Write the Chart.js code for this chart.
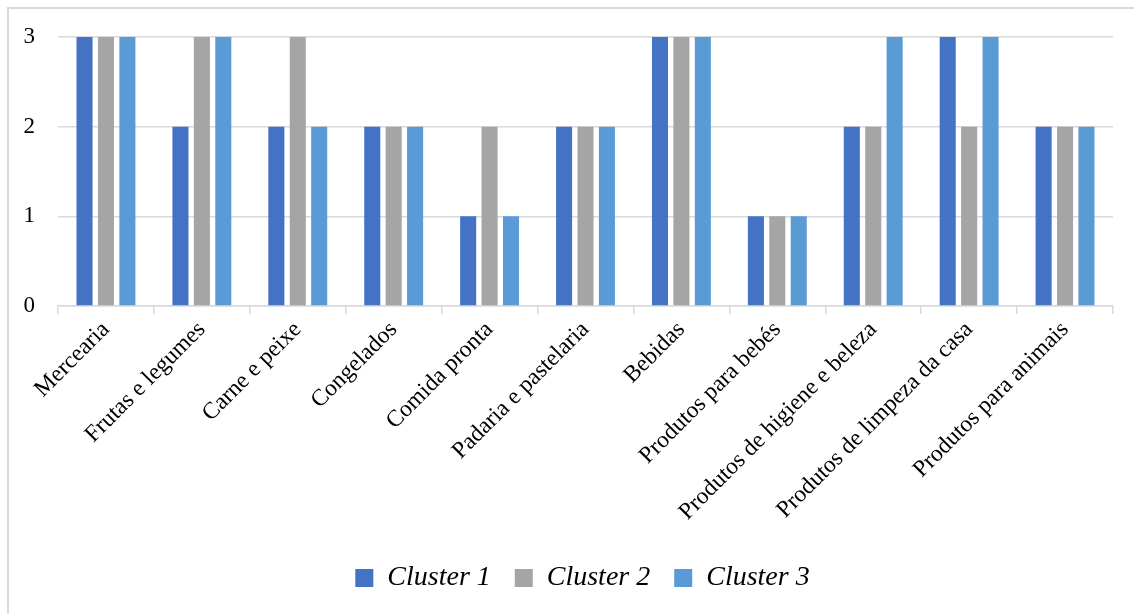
<!DOCTYPE html>
<html>
<head>
<meta charset="utf-8">
<script src="https://cdn.jsdelivr.net/npm/chart.js@4/dist/chart.umd.min.js"></script>
<style>
  html, body { margin: 0; padding: 0; background: #fff; }
  body { width: 1134px; height: 614px; overflow: hidden; position: relative; }
  #frame { position: absolute; left: 7px; top: 7px; width: 1140px; height: 620px;
           border-left: 2px solid #D9D9D9; border-top: 2px solid #D9D9D9; box-sizing: border-box; }
  #wrap { position: absolute; left: 0; top: 0; width: 1134px; height: 614px; }
</style>
</head>
<body>
<div id="frame"></div>
<div id="wrap"><canvas id="c" width="1134" height="614"></canvas></div>
<script>
const categories = [
  "Mercearia", "Frutas e legumes", "Carne e peixe", "Congelados", "Comida pronta",
  "Padaria e pastelaria", "Bebidas", "Produtos para bebés", "Produtos de higiene e beleza",
  "Produtos de limpeza da casa", "Produtos para animais"
];
const cluster1 = [3, 2, 2, 2, 1, 2, 3, 1, 2, 3, 2];
const cluster2 = [3, 3, 3, 2, 2, 2, 3, 1, 2, 2, 2];
const cluster3 = [3, 3, 2, 2, 1, 2, 3, 1, 3, 3, 2];
const seriesNames = ["Cluster 1", "Cluster 2", "Cluster 3"];
const yTicks = [0, 1, 2, 3];

const colors = ["#4472C4", "#A5A5A5", "#5B9BD5"];
const serif = "'Liberation Serif', 'DejaVu Serif', serif";

// the legend sits a little right of the canvas centre
const legendShift = {
  id: "legendShift",
  afterLayout(chart) {
    const lg = chart.legend;
    if (lg) { lg.left += 26; lg.right += 26; lg.top -= 2; lg.bottom -= 2; }
  }
};

new Chart(document.getElementById("c"), {
  type: "bar",
  data: {
    labels: categories,
    datasets: [cluster1, cluster2, cluster3].map((d, i) => ({
      label: seriesNames[i],
      data: d,
      backgroundColor: colors[i],
      borderWidth: 0,
      categoryPercentage: 0.67,
      barPercentage: 0.75
    }))
  },
  plugins: [legendShift],
  options: {
    responsive: false,
    animation: false,
    layout: { padding: { left: 0, right: 21, top: 37, bottom: 10 } },
    plugins: {
      tooltip: { enabled: false },
      legend: {
        position: "bottom",
        labels: {
          color: "#000",
          font: { family: serif, size: 28, style: "italic" },
          boxWidth: 18,
          boxHeight: 18,
          padding: 24
        }
      }
    },
    scales: {
      y: {
        min: 0, max: 3,
        afterFit: s => { s.width = 58; },
        afterBuildTicks: s => { s.ticks = yTicks.map(v => ({ value: v })); },
        ticks: { color: "#000", font: { family: serif, size: 23 }, padding: 23 },
        grid: { color: "#D9D9D9", lineWidth: 1.5, drawTicks: false },
        border: { display: false }
      },
      x: {
        afterFit: s => { s.height = 236; },
        ticks: { color: "#000", font: { family: serif, size: 23.5 }, minRotation: 45, maxRotation: 45, autoSkip: false, padding: 2 },
        grid: { offset: true, drawOnChartArea: false, color: "#D9D9D9", lineWidth: 1.5, tickLength: 8 },
        border: { color: "#D9D9D9", width: 1.5 }
      }
    }
  }
});
</script>
</body>
</html>
